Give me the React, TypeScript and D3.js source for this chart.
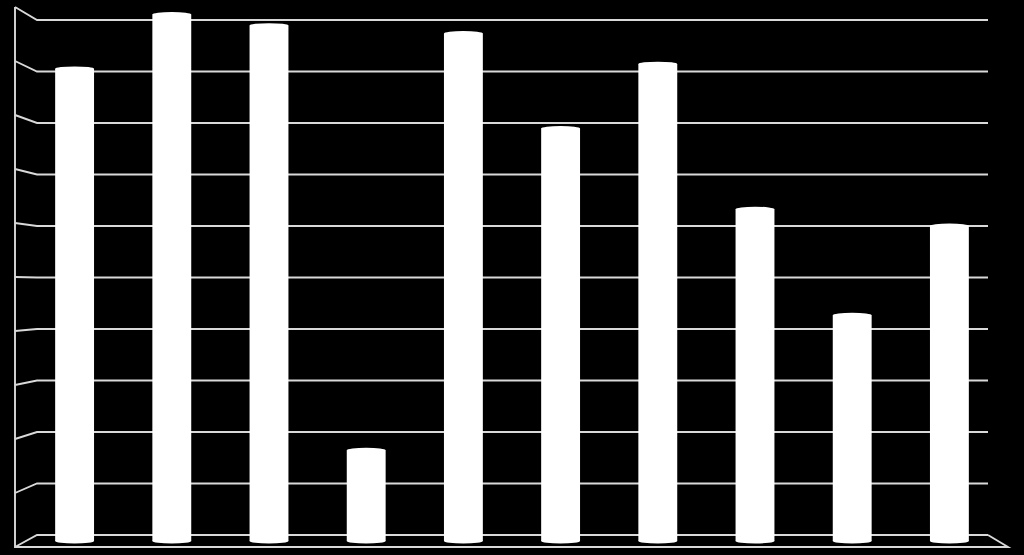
import { useEffect, useRef } from 'react';
import * as d3 from 'd3';

const WIDTH = 1024;
const HEIGHT = 555;

// categories have no visible labels in the picture
const categories = ['1', '2', '3', '4', '5', '6', '7', '8', '9', '10'];
const values = [8.95, 9.98, 9.77, 1.72, 9.62, 7.82, 9.04, 6.29, 4.28, 5.97];
const ticks = [0, 1, 2, 3, 4, 5, 6, 7, 8, 9, 10];

// 3D box: front edge, back wall, and the plane in between where the bars stand
const FRONT = { left: 15, right: 1008, top: 7, bottom: 547 };
const BACK = { left: 37, right: 988, top: 20, bottom: 535 };
const MID = { left: 26, right: 998, top: 13.5, bottom: 541 };

const GRID = '#d9d9d9';

export default function App() {
  const svgRef = useRef<SVGSVGElement>(null);

  useEffect(() => {
    document.body.style.margin = '0';
    document.body.style.background = '#000';
    if (!svgRef.current) return;

    const svg = d3.select(svgRef.current);
    svg.selectAll('*').remove();

    const yFront = d3.scaleLinear().domain([0, 10]).range([FRONT.bottom, FRONT.top]);
    const yBack = d3.scaleLinear().domain([0, 10]).range([BACK.bottom, BACK.top]);
    const yMid = d3.scaleLinear().domain([0, 10]).range([MID.bottom, MID.top]);

    const xScale = d3
      .scaleBand()
      .domain(categories)
      .range([MID.left, MID.right])
      .paddingInner(0.6)
      .paddingOuter(0.3);

    svg.append('rect').attr('width', WIDTH).attr('height', HEIGHT).attr('fill', '#000');

    // Gridlines: diagonal on the side wall, then flat on the back wall
    const line = d3.line<[number, number]>();
    svg
      .append('g')
      .selectAll('path')
      .data(ticks)
      .join('path')
      .attr('d', (t) =>
        line([
          [FRONT.left, yFront(t)],
          [BACK.left, yBack(t)],
          [BACK.right, yBack(t)],
        ])
      )
      .attr('fill', 'none')
      .attr('stroke', GRID)
      .attr('stroke-width', 1.9);

    // Vertical axis edge and floor
    svg
      .append('path')
      .attr(
        'd',
        line([
          [FRONT.left, yFront(10)],
          [FRONT.left, yFront(0)],
          [FRONT.right, yFront(0)],
          [BACK.right, yBack(0)],
        ])
      )
      .attr('fill', 'none')
      .attr('stroke', GRID)
      .attr('stroke-width', 1.9);

    // Cylinders
    const rx = xScale.bandwidth() / 2;
    const ry = 2.5;
    const bars = svg
      .append('g')
      .selectAll('g')
      .data(values)
      .join('g')
      .attr('transform', (_, i) => `translate(${xScale(categories[i])! + rx}, 0)`);

    bars
      .append('rect')
      .attr('x', -rx)
      .attr('y', (d) => yMid(d))
      .attr('width', rx * 2)
      .attr('height', (d) => yMid(0) - yMid(d))
      .attr('fill', '#fff');

    bars
      .append('ellipse')
      .attr('cy', yMid(0))
      .attr('rx', rx)
      .attr('ry', ry)
      .attr('fill', '#fff');

    bars
      .append('ellipse')
      .attr('cy', (d) => yMid(d))
      .attr('rx', rx)
      .attr('ry', ry)
      .attr('fill', '#fff');
  }, []);

  return <svg ref={svgRef} width={WIDTH} height={HEIGHT} style={{ display: 'block' }} />;
}
